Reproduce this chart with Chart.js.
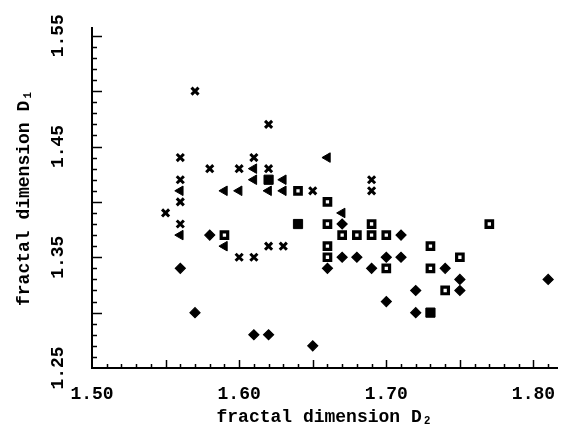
<!DOCTYPE html>
<html>
<head>
<meta charset="utf-8">
<script src="https://cdn.jsdelivr.net/npm/chart.js@4"></script>
<style>
  html, body { margin: 0; padding: 0; background: #fff; }
  #wrap { width: 565px; height: 436px; position: relative; }
</style>
</head>
<body>
<div id="wrap"><canvas id="chart"></canvas></div>
<script>
// [D2, D1] pairs
const crosses = [
    [1.57, 1.50], [1.62, 1.47], [1.56, 1.44], [1.61, 1.44], [1.58, 1.43],
    [1.60, 1.43], [1.62, 1.43], [1.56, 1.42], [1.69, 1.42], [1.65, 1.41],
    [1.69, 1.41], [1.56, 1.40], [1.55, 1.39], [1.56, 1.38], [1.62, 1.36],
    [1.63, 1.36], [1.60, 1.35], [1.61, 1.35]
];
const triangles = [
    [1.66, 1.44], [1.61, 1.43], [1.61, 1.42], [1.63, 1.42], [1.56, 1.41],
    [1.59, 1.41], [1.60, 1.41], [1.62, 1.41], [1.63, 1.41], [1.67, 1.39],
    [1.56, 1.37], [1.59, 1.36]
];
const openSquares = [
    [1.64, 1.41], [1.66, 1.40], [1.66, 1.38], [1.69, 1.38], [1.77, 1.38],
    [1.59, 1.37], [1.67, 1.37], [1.68, 1.37], [1.69, 1.37], [1.70, 1.37],
    [1.66, 1.36], [1.73, 1.36], [1.66, 1.35], [1.75, 1.35], [1.70, 1.34],
    [1.73, 1.34], [1.74, 1.32]
];
const diamonds = [
    [1.58, 1.37], [1.67, 1.38], [1.71, 1.37], [1.67, 1.35], [1.68, 1.35],
    [1.70, 1.35], [1.71, 1.35], [1.56, 1.34], [1.66, 1.34], [1.69, 1.34],
    [1.74, 1.34], [1.75, 1.33], [1.81, 1.33], [1.72, 1.32], [1.75, 1.32],
    [1.70, 1.31], [1.57, 1.30], [1.72, 1.30], [1.61, 1.28], [1.62, 1.28],
    [1.65, 1.27]
];
const filledSquares = [[1.62, 1.42], [1.64, 1.38], [1.73, 1.30]];

const xTickLabels = ['1.50', '1.60', '1.70', '1.80'];
const yTickLabels = ['1.25', '1.35', '1.45', '1.55'];

const FONT = '"Liberation Mono", "Courier New", monospace';
Chart.defaults.font.family = FONT;
Chart.defaults.color = '#000';

const toXY = arr => arr.map(p => ({ x: p[0], y: p[1] }));

// inward tick marks + rotated tick labels
const axisDecor = {
    id: 'axisDecor',
    afterDraw(chart) {
        const { ctx, chartArea, scales: { x, y } } = chart;
        ctx.save();
        ctx.strokeStyle = '#000';
        ctx.lineWidth = 1.5;
        for (let i = 151; i <= 181; i++) {
            const px = Math.round(x.getPixelForValue(i / 100)) + 0.5;
            const len = i % 5 === 0 ? 8 : 4;
            ctx.beginPath();
            ctx.moveTo(px, chartArea.bottom);
            ctx.lineTo(px, chartArea.bottom - len);
            ctx.stroke();
        }
        for (let i = 126; i <= 155; i++) {
            const py = Math.round(y.getPixelForValue(i / 100)) + 0.5;
            const len = i % 5 === 0 ? 10 : 5;
            ctx.beginPath();
            ctx.moveTo(chartArea.left, py);
            ctx.lineTo(chartArea.left + len, py);
            ctx.stroke();
        }

        ctx.fillStyle = '#000';
        ctx.font = 'bold 18px ' + FONT;
        ctx.textAlign = 'center';
        ctx.textBaseline = 'middle';
        xTickLabels.forEach(t => {
            ctx.fillText(t, x.getPixelForValue(parseFloat(t)), 394);
        });
        yTickLabels.forEach(t => {
            ctx.save();
            ctx.translate(58, y.getPixelForValue(parseFloat(t)));
            ctx.rotate(-Math.PI / 2);
            ctx.fillText(t, 0, 0);
            ctx.restore();
        });
        ctx.restore();
    }
};

const base = { borderColor: '#000', backgroundColor: '#000', pointHoverRadius: 0 };

new Chart(document.getElementById('chart'), {
    type: 'scatter',
    data: {
        datasets: [
            { ...base, label: 'x', data: toXY(crosses), pointStyle: 'crossRot', pointRadius: 5, borderWidth: 3 },
            { ...base, label: 'tri', data: toXY(triangles), pointStyle: 'triangle', pointRotation: -90, pointRadius: 5.5, borderWidth: 1 },
            { ...base, label: 'sq', data: toXY(openSquares), pointStyle: 'rect', pointRadius: 4.6, borderWidth: 3.2, backgroundColor: '#fff' },
            { ...base, label: 'dia', data: toXY(diamonds), pointStyle: 'rectRot', pointRadius: 5, borderWidth: 1.2 },
            { ...base, label: 'fsq', data: toXY(filledSquares), pointStyle: 'rect', pointRadius: 6.5, borderWidth: 1 }
        ]
    },
    options: {
        responsive: true,
        maintainAspectRatio: false,
        animation: false,
        layout: { padding: { top: 28, right: 3, left: 0, bottom: 0 } },
        plugins: { legend: { display: false }, tooltip: { enabled: false } },
        scales: {
            x: {
                type: 'linear',
                min: 1.50,
                max: 1.816,
                grid: { display: false },
                border: { display: true, color: '#000', width: 2 },
                ticks: { display: false },
                title: {
                    display: true,
                    text: 'fractal dimension D₂',
                    font: { size: 18, weight: 'bold' },
                    padding: { top: 0, bottom: 8 }
                },
                afterFit: s => { s.height = 68; }
            },
            y: {
                type: 'linear',
                min: 1.25,
                max: 1.557,
                grid: { display: false },
                border: { display: true, color: '#000', width: 2 },
                ticks: { display: false },
                title: {
                    display: true,
                    text: 'fractal dimension D₁',
                    font: { size: 18, weight: 'bold' },
                    padding: { top: 14, bottom: 0 }
                },
                afterFit: s => { s.width = 92; }
            }
        }
    },
    plugins: [axisDecor]
});
</script>
</body>
</html>
